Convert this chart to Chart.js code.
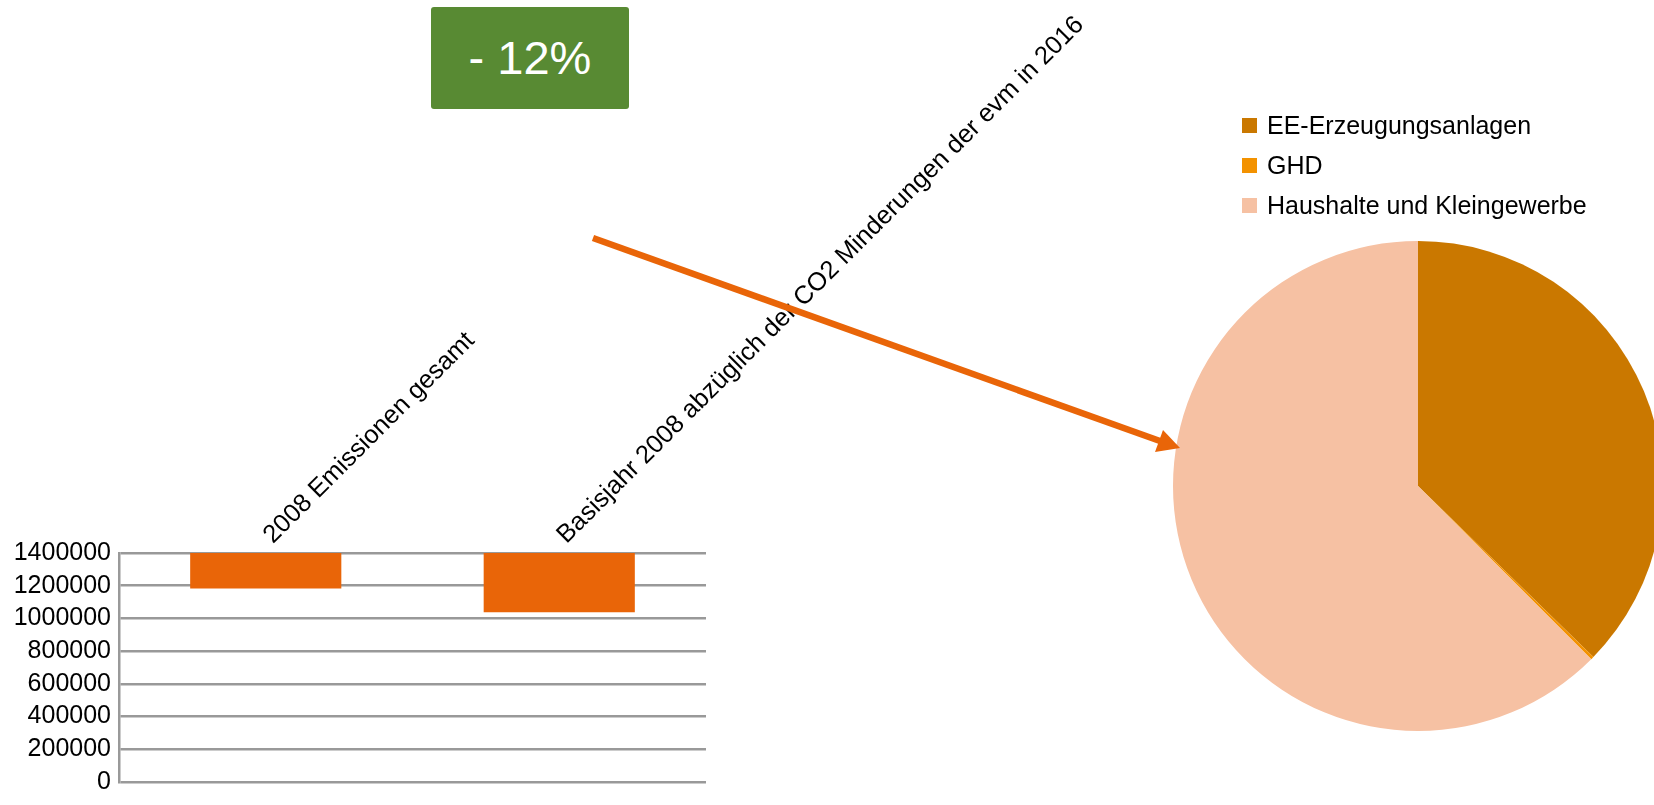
<!DOCTYPE html>
<html>
<head>
<meta charset="utf-8">
<script src="https://cdn.jsdelivr.net/npm/chart.js@4/dist/chart.umd.min.js"></script>
<style>
  html, body { margin:0; padding:0; background:#fff; width:1654px; height:805px; overflow:hidden; position:relative; font-family:"Liberation Sans", Arial, sans-serif; }
  #barWrap { position:absolute; left:0; top:0; width:1654px; height:805px; }
  #pieWrap { position:absolute; left:1173px; top:241px; width:490px; height:490px; }
  #badge { position:absolute; left:431px; top:7px; width:198px; height:102px; background:#588A33; border-radius:3px; color:#fff; font-size:47px; line-height:102px; text-align:center; }
  #legend { position:absolute; left:1242px; top:105px; }
  .li { position:relative; height:40px; font-size:25px; color:#000; }
  .li span.box { position:absolute; left:0; top:13px; width:15px; height:15px; }
  .li span.t { position:absolute; left:25px; top:0; line-height:40px; white-space:nowrap; }
  svg { position:absolute; left:0; top:0; }
</style>
</head>
<body>
<div id="barWrap"><canvas id="bar"></canvas></div>
<div id="pieWrap"><canvas id="pie"></canvas></div>
<div id="badge">- 12%</div>
<div id="legend"></div>
<svg width="1654" height="805">
  <line x1="593" y1="238" x2="1160" y2="441" stroke="#E96508" stroke-width="6.5"/>
  <polygon points="1180,448 1155,452 1163,430" fill="#E96508"/>
</svg>
<script>
// ---- data ----
const barCategories = ["2008 Emissionen gesamt", "Basisjahr 2008 abzüglich der CO2 Minderungen der evm in 2016"];
const barValues = [1183000, 1038000];
const barTop = 1400000;
const yTicks = [0, 200000, 400000, 600000, 800000, 1000000, 1200000, 1400000];

const pieLabels = ["EE-Erzeugungsanlagen", "GHD", "Haushalte und Kleingewerbe"];
const pieValues = [37.3, 0.2, 62.5];
const pieColors = ["#CA7800", "#F39200", "#F6C1A3"];

const FONT = "'Liberation Sans', Arial, sans-serif";

new Chart(document.getElementById('bar'), {
  type: 'bar',
  data: {
    labels: barCategories,
    datasets: [{
      data: barValues.map(v => [v, barTop]),
      backgroundColor: '#E96508',
      borderWidth: 0,
      categoryPercentage: 1,
      barPercentage: 0.515
    }]
  },
  options: {
    responsive: true,
    maintainAspectRatio: false,
    animation: false,
    layout: { padding: { left: 0, right: 948, top: 0, bottom: 12 } },
    plugins: { legend: { display: false }, tooltip: { enabled: false } },
    scales: {
      x: {
        position: 'top',
        grid: { display: false, drawTicks: false },
        border: { display: false },
        ticks: {
          autoSkip: false, minRotation: 45, maxRotation: 45, labelOffset: 24,
          color: '#000', font: { family: FONT, size: 25.5 }, padding: 3
        },
        afterFit(scale) { scale.height = 553; scale.paddingLeft = 0; scale.paddingRight = 0; }
      },
      y: {
        min: 0, max: 1400000,
        afterBuildTicks(scale) { scale.ticks = yTicks.map(v => ({ value: v })); },
        grid: { color: '#999999', lineWidth: 2.5, drawTicks: false },
        border: { display: true, color: '#999999', width: 2.5 },
        ticks: {
          autoSkip: false, color: '#000', font: { family: FONT, size: 25 }, padding: 8,
          callback: (v) => String(v)
        },
        afterFit(scale) { scale.width = 119; }
      }
    }
  }
});

new Chart(document.getElementById('pie'), {
  type: 'pie',
  data: {
    labels: pieLabels,
    datasets: [{ data: pieValues, backgroundColor: pieColors, borderWidth: 0 }]
  },
  options: {
    responsive: true,
    maintainAspectRatio: false,
    animation: false,
    layout: { padding: 0 },
    plugins: { legend: { display: false }, tooltip: { enabled: false } }
  }
});

const lg = document.getElementById('legend');
pieLabels.forEach((l, i) => {
  const d = document.createElement('div');
  d.className = 'li';
  d.innerHTML = '<span class="box" style="background:' + pieColors[i] + '"></span><span class="t">' + l + '</span>';
  lg.appendChild(d);
});
</script>
</body>
</html>
